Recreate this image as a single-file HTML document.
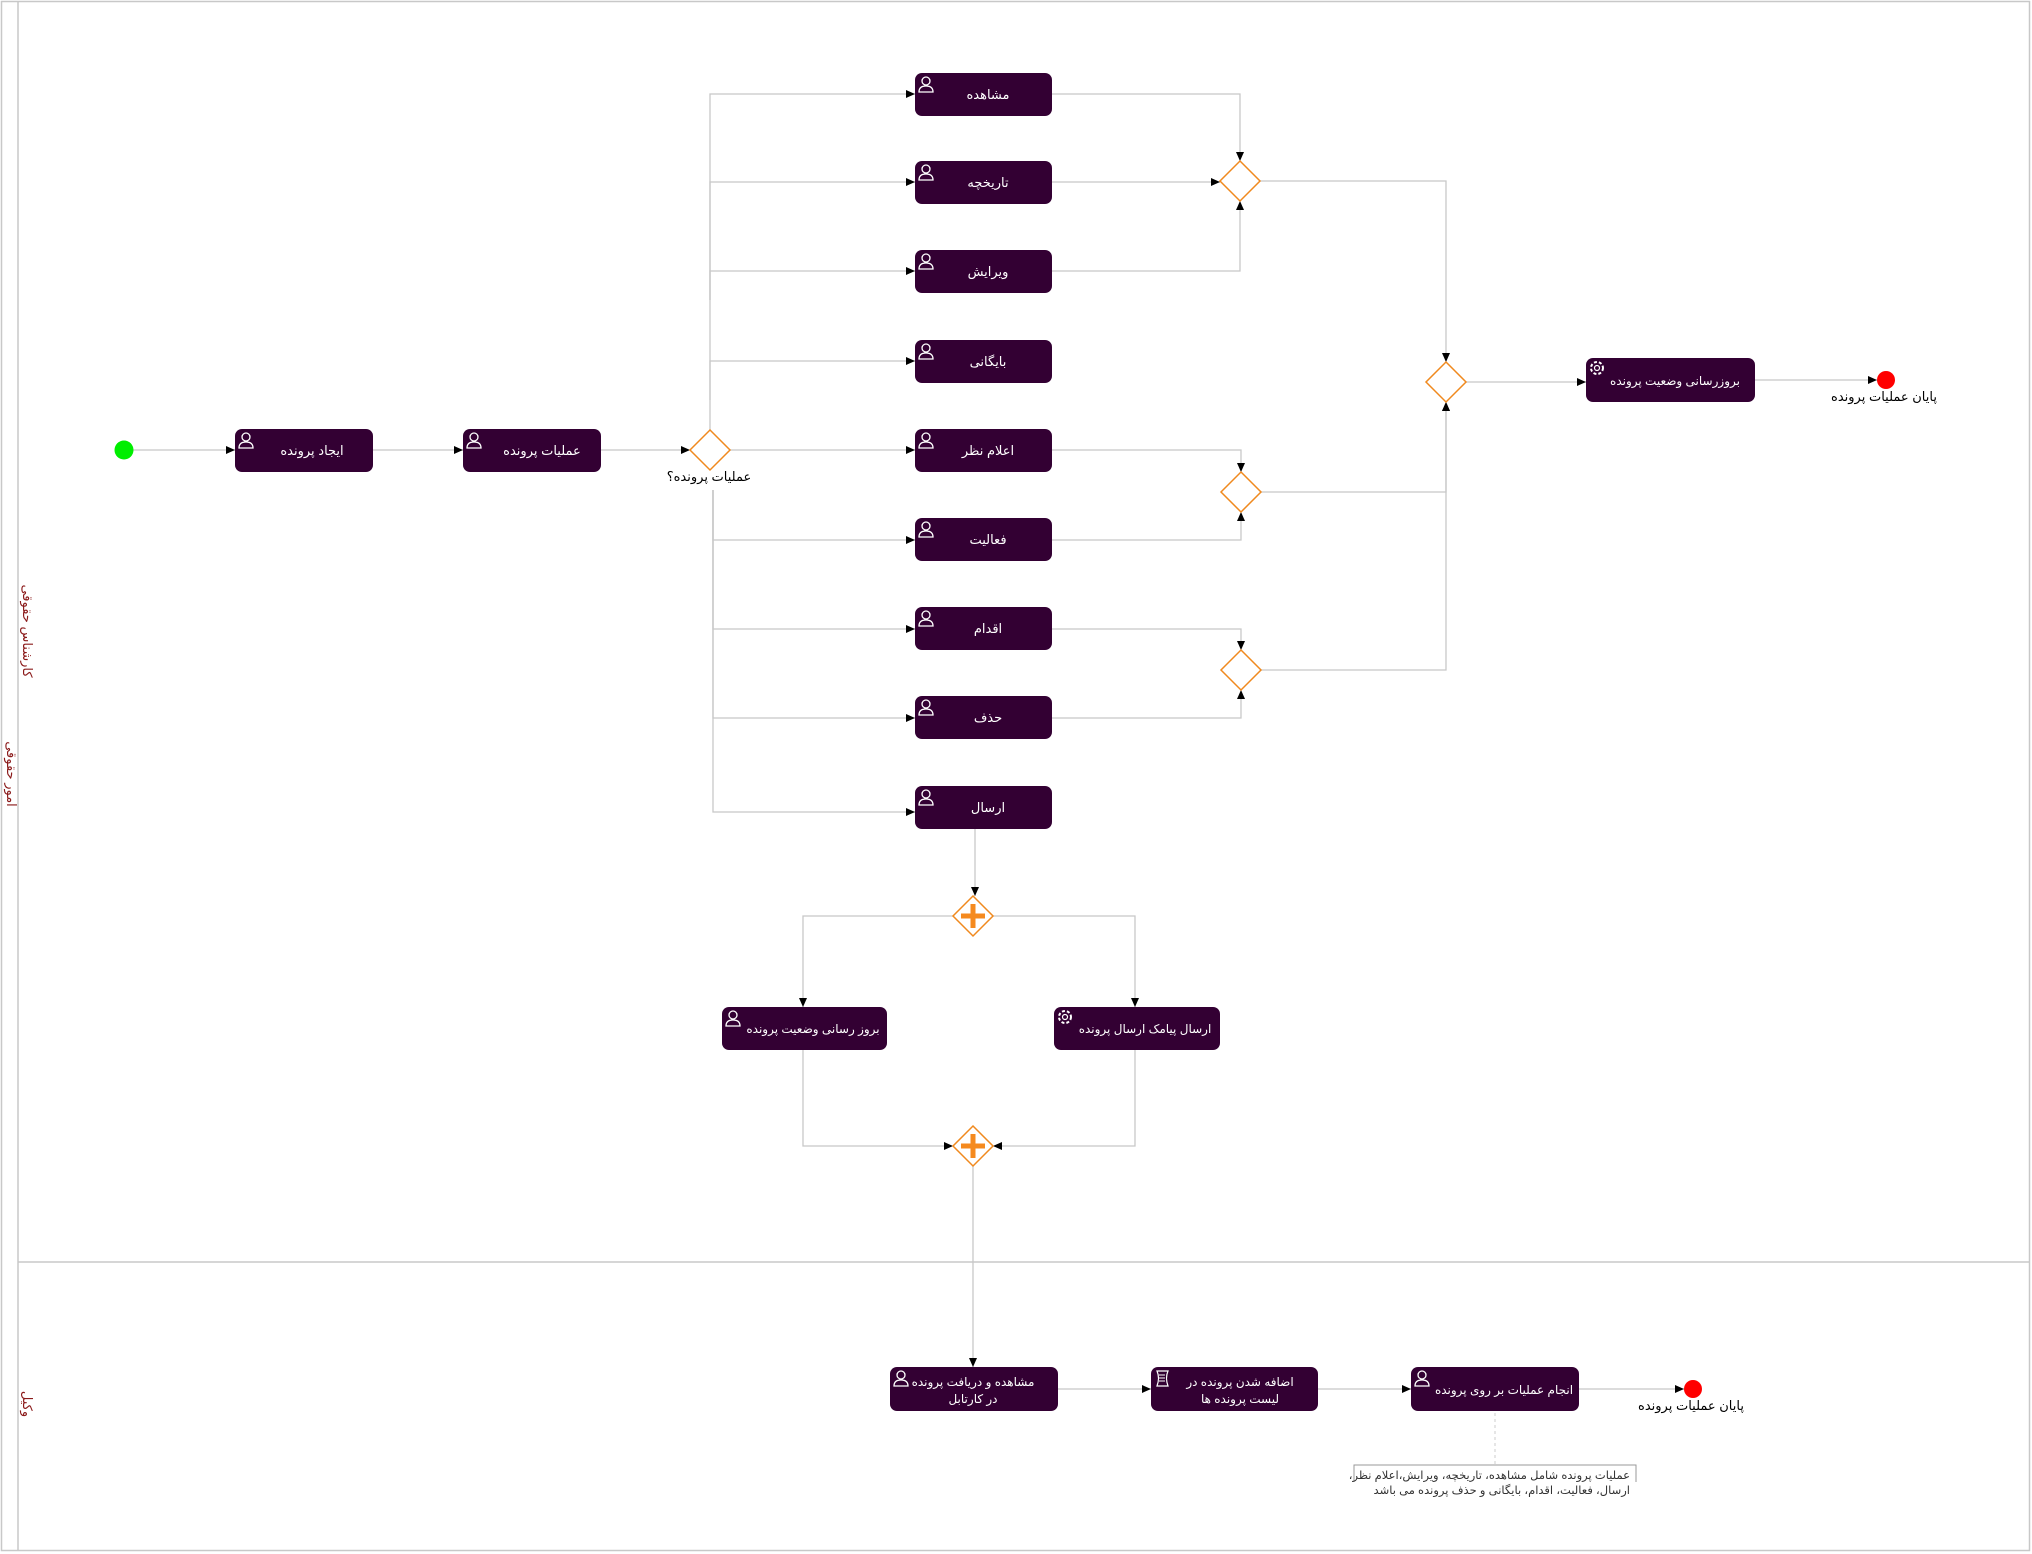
<!DOCTYPE html>
<html><head><meta charset="utf-8"><style>
html,body{margin:0;padding:0;background:#fff}
svg{display:block}
text{font-family:"Liberation Sans","DejaVu Sans",sans-serif;direction:rtl;unicode-bidi:embed}
.t{fill:#fff;font-size:13px;text-anchor:middle}
.s{font-size:12px}
.l{fill:none;stroke:#c8c8c8;stroke-width:1.3}
.g{fill:#fff;stroke:#f0891e;stroke-width:1.5}
.task{fill:#330033}
</style></head><body>
<svg width="2032" height="1554" viewBox="0 0 2032 1554" xmlns="http://www.w3.org/2000/svg">
<defs>
<marker id="a" markerWidth="10" markerHeight="10" refX="9" refY="5" orient="auto" markerUnits="userSpaceOnUse"><path d="M0,1 L9,5 L0,9 Z" fill="#000"/></marker>
<g id="u"><circle cx="9" cy="6" r="4" fill="none" stroke="#fff" stroke-width="1.3"/><path d="M2,17 Q2,11 9,11 Q16,11 16,17 Z" fill="none" stroke="#fff" stroke-width="1.3"/></g>
<g id="gear"><circle cx="9" cy="9" r="6" fill="none" stroke="#fff" stroke-width="2" stroke-dasharray="3 2"/><circle cx="9" cy="9" r="2.5" fill="none" stroke="#fff" stroke-width="1.2"/></g>
<g id="scr"><path d="M4,2 H15 Q12,9 15,17 H4 Q7,9 4,2 Z" fill="none" stroke="#fff" stroke-width="1.2"/><path d="M6,6 H12 M6,9 H12 M6,12 H12" stroke="#fff" stroke-width="1"/></g>
</defs>
<rect x="1.5" y="1.5" width="2028" height="1549" fill="none" stroke="#c8c8c8" stroke-width="1.5"/>
<line x1="18" y1="1" x2="18" y2="1551" stroke="#c8c8c8" stroke-width="1.5"/>
<line x1="18" y1="1262" x2="2030" y2="1262" stroke="#c8c8c8" stroke-width="1.5"/>
<text transform="translate(7,774) rotate(90)" font-size="13" fill="#8b1a1a" text-anchor="middle">امور حقوقی</text>
<text transform="translate(23,631) rotate(90)" font-size="13" fill="#8b1a1a" text-anchor="middle">کارشناس حقوقی</text>
<text transform="translate(23,1404) rotate(90)" font-size="13" fill="#8b1a1a" text-anchor="middle">وکیل</text>

<g class="l" marker-end="url(#a)">
<path d="M133,450 H235"/>
<path d="M373,450 H463"/>
<path d="M601,450 H690"/>
<path d="M730,450 H915"/>
<path d="M710,430 V94 H915"/>
<path d="M710,300 V182 H915"/>
<path d="M710,300 V271 H915"/>
<path d="M710,400 V361 H915"/>
<path d="M713,490 V540 H915"/>
<path d="M713,490 V629 H915"/>
<path d="M713,490 V718 H915"/>
<path d="M713,490 V812 H915"/>
<path d="M1052,94 H1240 V161"/>
<path d="M1052,182 H1220"/>
<path d="M1052,271 H1240 V201"/>
<path d="M1052,450 H1241 V472"/>
<path d="M1052,540 H1241 V512"/>
<path d="M1052,629 H1241 V650"/>
<path d="M1052,718 H1241 V690"/>
<path d="M1260,181 H1446 V362"/>
<path d="M1261,492 H1446 V402"/>
<path d="M1261,670 H1446 V402"/>
<path d="M1466,382 H1586"/>
<path d="M1755,380 H1877"/>
<path d="M975,829 V896"/>
<path d="M953,916 H803 V1007"/>
<path d="M993,916 H1135 V1007"/>
<path d="M803,1050 V1146 H953"/>
<path d="M1135,1050 V1146 H993"/>
<path d="M973,1166 V1367"/>
<path d="M1058,1389 H1151"/>
<path d="M1318,1389 H1411"/>
<path d="M1579,1389 H1684"/>
</g>
<line x1="1495" y1="1413" x2="1495" y2="1464" stroke="#ccc" stroke-dasharray="3 3"/>

<circle cx="124" cy="450" r="9.5" fill="#00ee00"/>
<circle cx="1886" cy="380" r="9" fill="#ff0000"/>
<text x="1884" y="401" font-size="13" text-anchor="middle">پایان عملیات پرونده</text>
<circle cx="1693" cy="1389" r="9" fill="#ff0000"/>
<text x="1691" y="1410" font-size="13" text-anchor="middle">پایان عملیات پرونده</text>

<g class="g">
<path d="M710,430 L730,450 L710,470 L690,450 Z"/>
<path d="M1240,161 L1260,181 L1240,201 L1220,181 Z"/>
<path d="M1241,472 L1261,492 L1241,512 L1221,492 Z"/>
<path d="M1241,650 L1261,670 L1241,690 L1221,670 Z"/>
<path d="M1446,362 L1466,382 L1446,402 L1426,382 Z"/>
<path d="M973,896 L993,916 L973,936 L953,916 Z"/>
<path d="M973,1126 L993,1146 L973,1166 L953,1146 Z"/>
</g>
<g stroke="#f58a1f" stroke-width="5">
<path d="M961,916 H985 M973,904 V928"/>
<path d="M961,1146 H985 M973,1134 V1158"/>
</g>
<text x="709" y="481" font-size="13" text-anchor="middle">عملیات پرونده؟</text>

<g>
<rect class="task" x="235" y="429" width="138" height="43" rx="7"/><use href="#u" x="237" y="431"/><text class="t" x="312" y="455">ایجاد پرونده</text>
<rect class="task" x="463" y="429" width="138" height="43" rx="7"/><use href="#u" x="465" y="431"/><text class="t" x="542" y="455">عملیات پرونده</text>

<rect class="task" x="915" y="73" width="137" height="43" rx="7"/><use href="#u" x="917" y="75"/><text class="t" x="988" y="99">مشاهده</text>
<rect class="task" x="915" y="161" width="137" height="43" rx="7"/><use href="#u" x="917" y="163"/><text class="t" x="988" y="187">تاریخچه</text>
<rect class="task" x="915" y="250" width="137" height="43" rx="7"/><use href="#u" x="917" y="252"/><text class="t" x="988" y="276">ویرایش</text>
<rect class="task" x="915" y="340" width="137" height="43" rx="7"/><use href="#u" x="917" y="342"/><text class="t" x="988" y="366">بایگانی</text>
<rect class="task" x="915" y="429" width="137" height="43" rx="7"/><use href="#u" x="917" y="431"/><text class="t" x="988" y="455">اعلام نظر</text>
<rect class="task" x="915" y="518" width="137" height="43" rx="7"/><use href="#u" x="917" y="520"/><text class="t" x="988" y="544">فعالیت</text>
<rect class="task" x="915" y="607" width="137" height="43" rx="7"/><use href="#u" x="917" y="609"/><text class="t" x="988" y="633">اقدام</text>
<rect class="task" x="915" y="696" width="137" height="43" rx="7"/><use href="#u" x="917" y="698"/><text class="t" x="988" y="722">حذف</text>
<rect class="task" x="915" y="786" width="137" height="43" rx="7"/><use href="#u" x="917" y="788"/><text class="t" x="988" y="812">ارسال</text>

<rect class="task" x="1586" y="358" width="169" height="44" rx="7"/><use href="#gear" x="1588" y="359"/><text class="t s" x="1675" y="385">بروزرسانی وضعیت پرونده</text>

<rect class="task" x="722" y="1007" width="165" height="43" rx="7"/><use href="#u" x="724" y="1009"/><text class="t s" x="813" y="1033">بروز رسانی وضعیت پرونده</text>
<rect class="task" x="1054" y="1007" width="166" height="43" rx="7"/><use href="#gear" x="1056" y="1008"/><text class="t s" x="1145" y="1033">ارسال پیامک ارسال پرونده</text>

<rect class="task" x="890" y="1367" width="168" height="44" rx="7"/><use href="#u" x="892" y="1369"/><text class="t s" x="973" y="1386">مشاهده و دریافت پرونده</text><text class="t s" x="973" y="1403">در کارتابل</text>
<rect class="task" x="1151" y="1367" width="167" height="44" rx="7"/><use href="#scr" x="1153" y="1369"/><text class="t s" x="1240" y="1386">اضافه شدن پرونده در</text><text class="t s" x="1240" y="1403">لیست پرونده ها</text>
<rect class="task" x="1411" y="1367" width="168" height="44" rx="7"/><use href="#u" x="1413" y="1369"/><text class="t s" x="1504" y="1394">انجام عملیات بر روی پرونده</text>
</g>

<path d="M1354,1482 V1465 H1636 V1482" fill="none" stroke="#999" stroke-width="1"/>
<text x="1630" y="1479" font-size="11.5" fill="#333" text-anchor="start">عملیات پرونده شامل مشاهده، تاریخچه، ویرایش،اعلام نظر،</text>
<text x="1630" y="1494" font-size="11.5" fill="#333" text-anchor="start">ارسال، فعالیت، اقدام، بایگانی و حذف پرونده می باشد</text>
</svg>
</body></html>
